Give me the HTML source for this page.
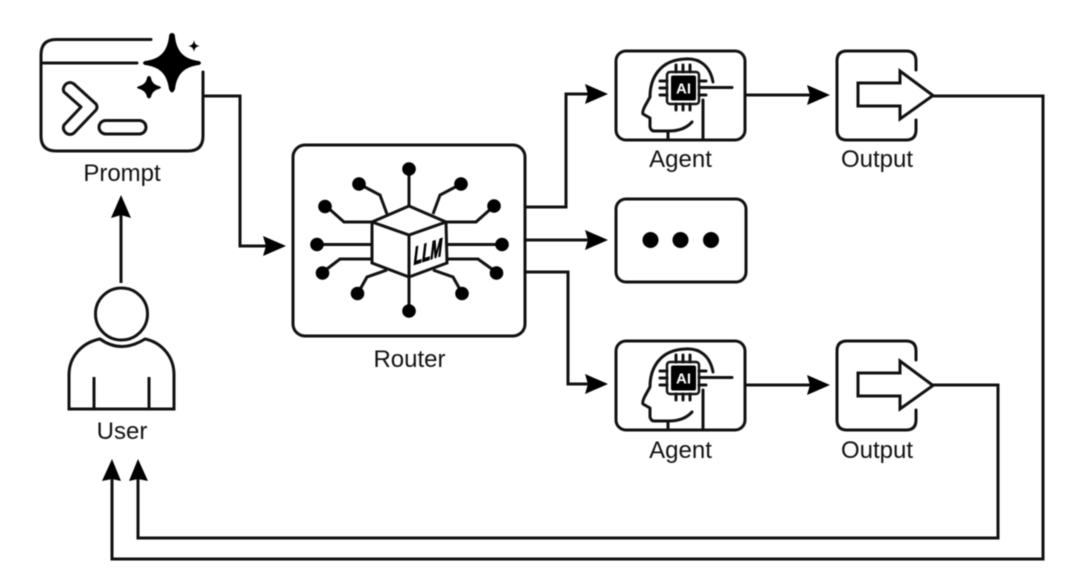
<!DOCTYPE html>
<html>
<head>
<meta charset="utf-8">
<style>
html,body{margin:0;padding:0;background:#fff;width:1080px;height:582px;overflow:hidden}
svg{display:block;filter:blur(.4px)}
text{font-family:"Liberation Sans",sans-serif;fill:#111}
.l{fill:none;stroke:#111;stroke-width:3;stroke-linejoin:miter}
.r{fill:none;stroke:#111;stroke-width:3;stroke-linejoin:round;stroke-linecap:round}
.t{font-size:24px;text-anchor:middle}
.k{fill:#000;stroke:none}
</style>
</head>
<body>
<svg width="1080" height="582" viewBox="0 0 1080 582" xmlns="http://www.w3.org/2000/svg">
<rect width="1080" height="582" fill="#fff"/>

<!-- Connectors -->
<path class="l" d="M203 96H240V246H268"/>
<path class="l" d="M121 283V215"/>
<path class="l" d="M526 207H566V94H590"/>
<path class="l" d="M526 240H590"/>
<path class="l" d="M526 272H568V384H590"/>
<path class="l" d="M745 95H812"/>
<path class="l" d="M745 385H812"/>
<path class="l" d="M933 96H1043V559H112V475"/>
<path class="l" d="M933 385H998V538H138V475"/>

<!-- Arrowheads -->
<path class="k" d="M286 246L263 236L266 246L263 256Z"/>
<path class="k" d="M121 195L131 218L121 215L111 218Z"/>
<path class="k" d="M608 94L585 84L588 94L585 104Z"/>
<path class="k" d="M608 240L585 230L588 240L585 250Z"/>
<path class="k" d="M608 384L585 374L588 384L585 394Z"/>
<path class="k" d="M830 95L807 85L810 95L807 105Z"/>
<path class="k" d="M830 385L807 375L810 385L807 395Z"/>
<path class="k" d="M112 459L121 481L112 479L102 481Z"/>
<path class="k" d="M138 459L148 481L138 479L129 481Z"/>

<!-- Prompt -->
<path class="r" d="M151 39.5H56Q41 39.5 41 55V136Q41 151 56 151H188Q203 151 203 136V72"/>
<path class="r" d="M41 63H137"/>
<path class="k" d="M172 33Q175 33 175 37C177 52 184 59 199 61Q203 63 199 65C184 67 177 74 175 89Q172 96 169 89C167 74 160 67 145 65Q141 63 145 61C160 59 167 52 169 37Q169 33 172 33Z"/>
<path class="k" d="M149 76Q150.500 76 151 78C152 83 155 85 160 86.500Q162 87.500 160 88.500C155 90 152 92 151 97Q149 100 147 97C146 92 143 90 138 88.500Q136 87.500 138 86.500C143 85 146 83 147 78Q147.500 76 149 76Z"/>
<path class="k" d="M194 40C194.700 44 196 45.500 200 46C196 46.500 194.700 48 194 52C193.300 48 192 46.500 188 46C192 45.500 193.300 44 194 40Z"/>
<path class="r" stroke-width="2.500" d="M64 92Q62 88 66 84Q70 81 74 84L96 104Q98 107 96 110L74 133Q70 136 66 133Q62 129 64 125L81 107Z"/>
<rect class="r" x="99" y="120.500" width="47" height="13.500" rx="6.700"/>
<text class="t" x="122" y="181">Prompt</text>

<!-- User -->
<circle class="l" cx="121.500" cy="314" r="26"/>
<path class="l" d="M69 409V375C69 355 84 342 100 339Q121 354 145 339C160 342 174 355 174 375V409Z"/>
<path class="l" d="M94 377V409M149 377V409"/>
<text class="t" x="122" y="439">User</text>

<!-- Router -->
<rect class="l" x="293" y="145" width="232" height="191" rx="12"/>
<g class="l">
<path d="M409 206L446 222L409 235L372 222ZM372 222V263L409 277V235M446 222L447 263L409 277"/>
<path d="M409 169V206M409 277V311"/>
<path d="M372 244.500H317M446 244.500H502"/>
<path d="M372 222H344L326 206M446 222H476L494 206"/>
<path d="M372 259H340L323 272M446 259H478L496 272"/>
<path d="M387 214L380 195L359 184M433 214L440 195L461 184"/>
<path d="M387 270L367 277L358 293M433 270L453 277L462 293"/>
</g>
<g class="k">
<circle cx="409" cy="169" r="6.800"/><circle cx="409" cy="311" r="6.800"/>
<circle cx="317" cy="244.500" r="6.800"/><circle cx="502" cy="244.500" r="6.800"/>
<circle cx="325" cy="206.500" r="6.800"/><circle cx="494" cy="206" r="6.800"/>
<circle cx="322.500" cy="273" r="6.800"/><circle cx="496.500" cy="273" r="6.800"/>
<circle cx="359" cy="184" r="6.800"/><circle cx="461" cy="184" r="6.800"/>
<circle cx="357.500" cy="293.500" r="6.800"/><circle cx="462" cy="293.500" r="6.800"/>
</g>
<text x="0" y="0" transform="translate(413 265) skewY(-18) skewX(-7) scale(.55 1)" font-size="25" font-weight="700" style="fill:#000;stroke:#000;stroke-width:1.100">LLM</text>
<text class="t" x="409.500" y="367">Router</text>

<!-- Ellipsis box -->
<rect class="l" x="616" y="199" width="130" height="83" rx="10"/>
<circle class="k" cx="650.500" cy="240" r="8"/>
<circle class="k" cx="680.500" cy="240" r="8"/>
<circle class="k" cx="711" cy="240" r="8"/>

<!-- Agent 1 -->
<g>
<rect class="l" x="616" y="51" width="129" height="89" rx="10"/>
<path class="r" stroke-width="2.500" d="M668 140V131H654Q651 131 650 127L650 118L643 114Q642 112 645 106L650 97C650 78 660 60 685 59C700 58 710 66 713 82"/>
<path class="r" d="M669 131Q684 131 692 122M703 140V100"/>
<rect x="667" y="72" width="32" height="32" rx="3" fill="#fff" stroke="#111" stroke-width="2.500"/>
<rect x="671" y="75.500" width="25" height="25" rx="2" fill="#000"/>
<path class="r" stroke-width="2" d="M676 72V65M683 72V65M690 72V65M676 104V110M683 104V110M690 104V110M667 81H660M667 88H660M667 95H660M699 81H706M699 95H706"/>
<path class="r" d="M699 87.500H732"/>
<text x="683.500" y="93.500" font-size="15" font-weight="700" text-anchor="middle" style="fill:#fff">AI</text>
</g>
<text class="t" x="680.500" y="167">Agent</text>

<!-- Agent 2 -->
<g transform="translate(0 290)">
<rect class="l" x="616" y="51" width="129" height="89" rx="10"/>
<path class="r" stroke-width="2.500" d="M668 140V131H654Q651 131 650 127L650 118L643 114Q642 112 645 106L650 97C650 78 660 60 685 59C700 58 710 66 713 82"/>
<path class="r" d="M669 131Q684 131 692 122M703 140V100"/>
<rect x="667" y="72" width="32" height="32" rx="3" fill="#fff" stroke="#111" stroke-width="2.500"/>
<rect x="671" y="75.500" width="25" height="25" rx="2" fill="#000"/>
<path class="r" stroke-width="2" d="M676 72V65M683 72V65M690 72V65M676 104V110M683 104V110M690 104V110M667 81H660M667 88H660M667 95H660M699 81H706M699 95H706"/>
<path class="r" d="M699 87.500H732"/>
<text x="683.500" y="93.500" font-size="15" font-weight="700" text-anchor="middle" style="fill:#fff">AI</text>
</g>
<text class="t" x="680.500" y="458">Agent</text>

<!-- Output 1 -->
<g>
<path class="r" d="M916 70V61Q916 51 906 51H847Q837 51 837 61V130Q837 140 847 140H906Q916 140 916 130V120"/>
<path class="l" d="M858 83H900V71L933 95.500L900 119V106H858Z"/>
</g>
<text class="t" x="877" y="167">Output</text>

<!-- Output 2 -->
<g transform="translate(0 290)">
<path class="r" d="M916 70V61Q916 51 906 51H847Q837 51 837 61V130Q837 140 847 140H906Q916 140 916 130V120"/>
<path class="l" d="M858 83H900V71L933 95.500L900 119V106H858Z"/>
</g>
<text class="t" x="877" y="458">Output</text>
</svg>
</body>
</html>
